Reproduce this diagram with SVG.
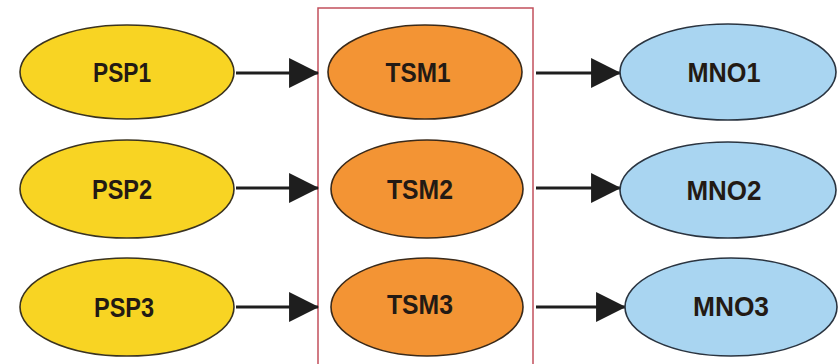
<svg xmlns="http://www.w3.org/2000/svg" width="838" height="364" viewBox="0 0 838 364">
<style>
.psp{fill:#F8D423;stroke:#3a3320;stroke-width:1.6}
.tsm{fill:#F39434;stroke:#3a2a1a;stroke-width:1.6}
.mno{fill:#A9D5F1;stroke:#2a3440;stroke-width:1.6}
.lbl{font-family:"Liberation Sans",Arial,sans-serif;font-weight:bold;font-size:27px;fill:#231a14;text-anchor:middle}
.conn line{stroke:#1e1e1e;stroke-width:3;marker-end:url(#ah)}
</style>
<defs>
<marker id="ah" markerUnits="userSpaceOnUse" markerWidth="30" markerHeight="30" viewBox="0 0 28 28" refX="27" refY="14" orient="auto">
<path d="M0,0 L28,14 L0,28 Z" fill="#1e1e1e"/>
</marker>
</defs>
<rect id="tsm-box" x="318" y="8" width="215" height="370" fill="none" stroke="#C2505C" stroke-width="1.5"/>
<g id="connectors" class="conn">
<line x1="236" y1="73" x2="318" y2="73"/>
<line x1="236" y1="188" x2="318" y2="188"/>
<line x1="236" y1="307" x2="318" y2="307"/>
<line x1="536" y1="73" x2="620" y2="73"/>
<line x1="536" y1="188" x2="620" y2="188"/>
<line x1="536" y1="307" x2="625" y2="307"/>
</g>
<g id="PSP1"><ellipse class="psp" cx="127" cy="72" rx="107" ry="47"/><text class="lbl" x="122" y="82" textLength="58" lengthAdjust="spacingAndGlyphs">PSP1</text></g>
<g id="PSP2"><ellipse class="psp" cx="127" cy="189" rx="107" ry="49"/><text class="lbl" x="122" y="199" textLength="60" lengthAdjust="spacingAndGlyphs">PSP2</text></g>
<g id="PSP3"><ellipse class="psp" cx="127" cy="307" rx="107" ry="49"/><text class="lbl" x="124" y="317" textLength="60" lengthAdjust="spacingAndGlyphs">PSP3</text></g>
<g id="TSM1"><ellipse class="tsm" cx="425" cy="72" rx="97" ry="47"/><text class="lbl" x="418" y="82" textLength="65" lengthAdjust="spacingAndGlyphs">TSM1</text></g>
<g id="TSM2"><ellipse class="tsm" cx="427" cy="189" rx="96" ry="49"/><text class="lbl" x="420" y="199" textLength="66" lengthAdjust="spacingAndGlyphs">TSM2</text></g>
<g id="TSM3"><ellipse class="tsm" cx="427" cy="307" rx="96" ry="49"/><text class="lbl" x="420" y="314" textLength="66" lengthAdjust="spacingAndGlyphs">TSM3</text></g>
<g id="MNO1"><ellipse class="mno" cx="728" cy="72" rx="108" ry="48"/><text class="lbl" x="724" y="82" textLength="73" lengthAdjust="spacingAndGlyphs">MNO1</text></g>
<g id="MNO2"><ellipse class="mno" cx="728" cy="190" rx="108" ry="48"/><text class="lbl" x="724" y="200" textLength="75" lengthAdjust="spacingAndGlyphs">MNO2</text></g>
<g id="MNO3"><ellipse class="mno" cx="731" cy="307" rx="106" ry="49"/><text class="lbl" x="731" y="316" textLength="76" lengthAdjust="spacingAndGlyphs">MNO3</text></g>
</svg>
